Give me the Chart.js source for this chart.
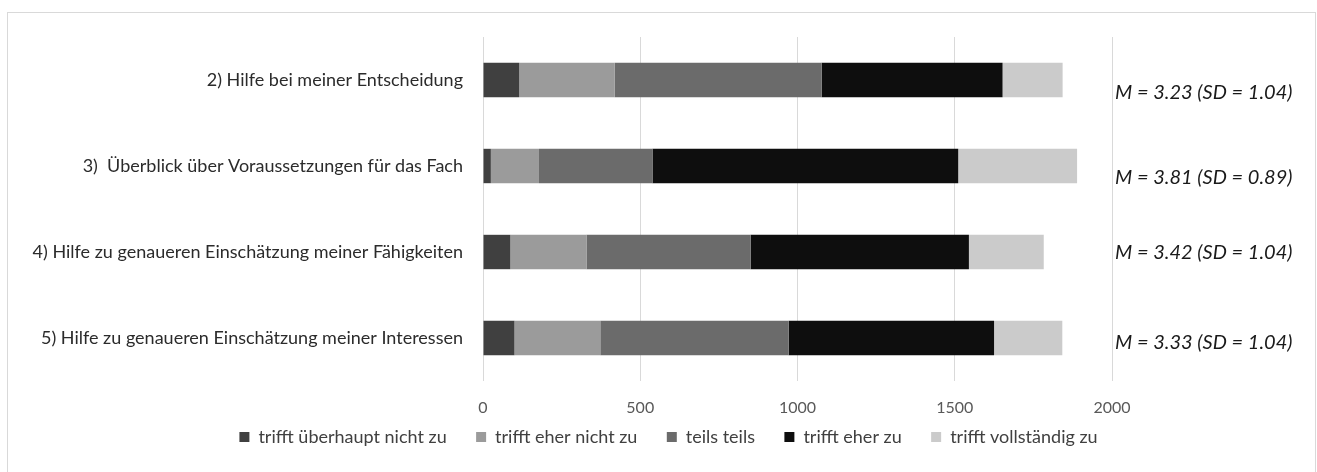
<!DOCTYPE html>
<html>
<head>
<meta charset="utf-8">
<script src="https://cdn.jsdelivr.net/npm/chart.js@4"></script>
<style>
  html, body { margin: 0; padding: 0; background: #fff; }
  #wrap { width: 1317px; height: 472px; }
</style>
</head>
<body>
<div id="wrap"><canvas id="barChart" width="1317" height="472"></canvas></div>
<script>
// Items (y axis)
const categories = [
  "2) Hilfe bei meiner Entscheidung",
  "3)  Überblick über Voraussetzungen für das Fach",
  "4) Hilfe zu genaueren Einschätzung meiner Fähigkeiten",
  "5) Hilfe zu genaueren Einschätzung meiner Interessen",
];

// Answer counts per item
const trifftUeberhauptNicht = [115, 25, 87, 100];
const trifftEherNicht = [304, 153, 242, 273];
const teilsTeils = [658, 361, 522, 599];
const trifftEher = [575, 972, 694, 653];
const trifftVollstaendig = [191, 378, 238, 217];

// x axis ticks
const xTicks = [0, 500, 1000, 1500, 2000];

// mean / sd notes shown right of the plot
const statLabels = [
  "M = 3.23 (SD = 1.04)",
  "M = 3.81 (SD = 0.89)",
  "M = 3.42 (SD = 1.04)",
  "M = 3.33 (SD = 1.04)",
];
const statOffsets = [13, 12, 1, 5];

const fontFamily = "Lato, 'Open Sans', sans-serif";

// frame + stats text
const extras = {
  id: "extras",
  beforeDraw(chart) {
    const ctx = chart.ctx;
    ctx.save();
    ctx.strokeStyle = "#d9d9d9";
    ctx.lineWidth = 1;
    ctx.strokeRect(7.5, 12.5, 1308, 480);
    ctx.restore();
  },
  afterDraw(chart) {
    const ctx = chart.ctx;
    const y = chart.scales.y;
    const area = chart.chartArea;
    ctx.save();
    ctx.font = "italic 20px " + fontFamily;
    ctx.fillStyle = "#1a1a1a";
    ctx.textAlign = "left";
    ctx.textBaseline = "middle";
    statLabels.forEach((txt, i) => {
      ctx.fillText(txt, area.right + 3, y.getPixelForValue(i) + statOffsets[i]);
    });
    ctx.restore();
  },
};

const barCtx = document.getElementById("barChart").getContext("2d");
new Chart(barCtx, {
  type: "bar",
  data: {
    labels: categories,
    datasets: [
      { label: "trifft überhaupt nicht zu", data: trifftUeberhauptNicht, backgroundColor: "#404040" },
      { label: "trifft eher nicht zu", data: trifftEherNicht, backgroundColor: "#9b9b9b" },
      { label: "teils teils", data: teilsTeils, backgroundColor: "#6b6b6b" },
      { label: "trifft eher zu", data: trifftEher, backgroundColor: "#0e0e0e" },
      { label: "trifft vollständig zu", data: trifftVollstaendig, backgroundColor: "#cbcbcb" },
    ],
  },
  options: {
    indexAxis: "y",
    responsive: false,
    animation: false,
    barPercentage: 0.4,
    categoryPercentage: 1,
    layout: { padding: { left: 20, right: 0, top: 37, bottom: 16 } },
    scales: {
      x: {
        stacked: true,
        min: 0,
        max: 2000,
        afterBuildTicks: (scale) => { scale.ticks = xTicks.map((v) => ({ value: v })); },
        afterFit: (scale) => { scale.height = 36; },
        grid: { color: "#d9d9d9", drawTicks: false },
        border: { display: false },
        ticks: {
          color: "#595959",
          padding: 17,
          font: { family: fontFamily, size: 16 },
          callback: (v) => String(v),
        },
      },
      y: {
        stacked: true,
        afterFit: (scale) => { scale.width = 463; },
        grid: { display: false, drawTicks: false },
        border: { display: false },
        ticks: { color: "#2b2b2b", padding: 20, font: { family: fontFamily, size: 18 } },
      },
      // empty axis on the right, only reserves room for the M / SD notes
      notes: {
        type: "category",
        position: "right",
        labels: [],
        afterFit: (scale) => { scale.width = 205; },
        grid: { display: false, drawTicks: false },
        border: { display: false },
        ticks: { display: false },
      },
    },
    plugins: {
      legend: {
        position: "bottom",
        labels: {
          boxWidth: 10,
          boxHeight: 10,
          padding: 11,
          color: "#404040",
          font: { family: fontFamily, size: 18 },
          // legend padding is shared by rows and items, so widen the item gap with spaces
          generateLabels: (chart) => {
            const items = Chart.defaults.plugins.legend.labels.generateLabels(chart);
            items.forEach((item, i) => {
              if (i < items.length - 1) item.text += "    ";
            });
            return items;
          },
        },
      },
      tooltip: { enabled: false },
    },
  },
  plugins: [extras],
});
</script>
</body>
</html>
